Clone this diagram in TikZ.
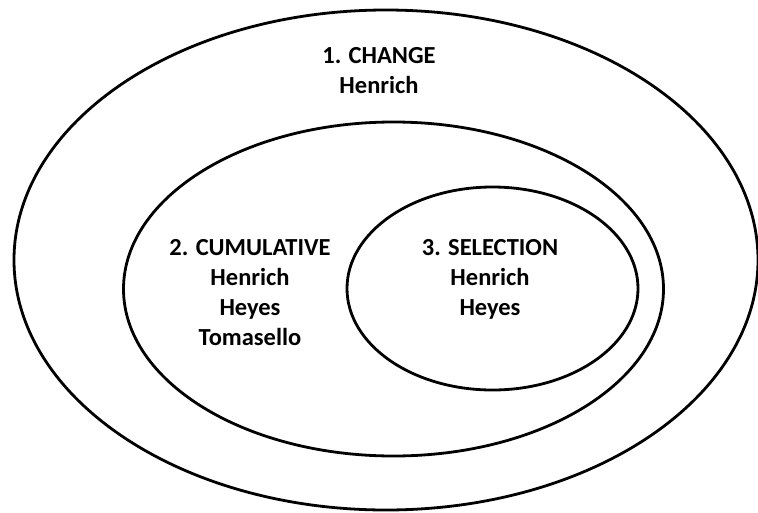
\documentclass[tikz,border=0pt]{standalone}
\usepackage{fontspec}
\setmainfont{Carlito}
\begin{document}
\begin{tikzpicture}[x=1pt,y=-1pt,
  ring/.style={draw=black,line width=2.8pt},
  lbl/.style={anchor=base,inner sep=0pt,font=\fontsize{24.5}{30}\selectfont\bfseries}]
\useasboundingbox[fill=white] (0,0) rectangle (758,512);
\draw[ring] (386,260) ellipse [x radius=372pt,y radius=250pt];
\draw[ring] (393.5,289) ellipse [x radius=270pt,y radius=167pt];
\draw[ring] (492.5,288.5) ellipse [x radius=145.5pt,y radius=101.5pt];
\node[lbl] (c1) at (379,63) {1. CHANGE};
\node[lbl] (c2) at (379,93) {Henrich};
\node[lbl] (m1) at (250,255) {2. CUMULATIVE};
\node[lbl] (m2) at (250,285) {Henrich};
\node[lbl] (m3) at (250,315) {Heyes};
\node[lbl] (m4) at (250,345) {Tomasello};
\node[lbl] (s1) at (490,255) {3. SELECTION};
\node[lbl] (s2) at (490,285) {Henrich};
\node[lbl] (s3) at (490,315) {Heyes};
\end{tikzpicture}
\end{document}
